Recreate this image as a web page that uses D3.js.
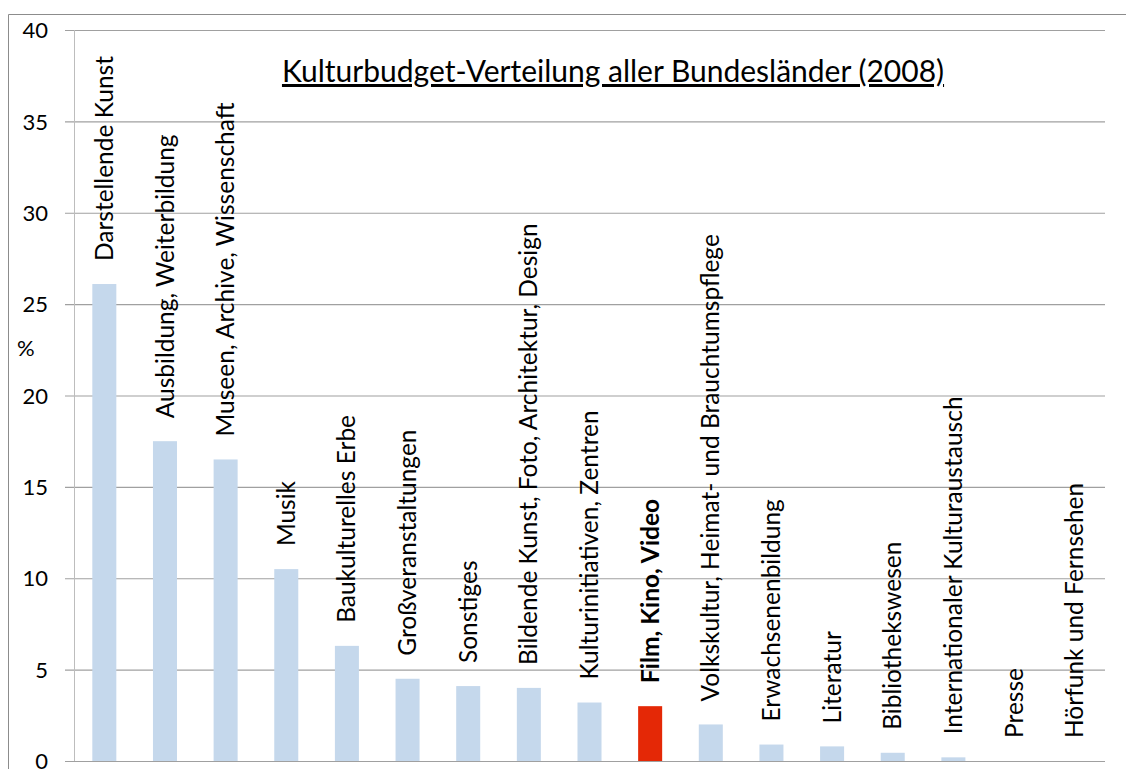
<!DOCTYPE html>
<html>
<head>
<meta charset="utf-8">
<script src="https://cdn.jsdelivr.net/npm/d3@7"></script>
<style>
  body { margin: 0; background: #fff; }
  text { font-family: Lato, "Open Sans", sans-serif; fill: #000; }
</style>
</head>
<body>
<div id="content"></div>
<script>
// categories and their share of the culture budget (%)
var categories = [
    "Darstellende Kunst", "Ausbildung, Weiterbildung", "Museen, Archive, Wissenschaft",
    "Musik", "Baukulturelles Erbe", "Großveranstaltungen", "Sonstiges",
    "Bildende Kunst, Foto, Architektur, Design", "Kulturinitiativen, Zentren",
    "Film, Kino, Video", "Volkskultur, Heimat- und Brauchtumspflege",
    "Erwachsenenbildung", "Literatur", "Bibliothekswesen",
    "Internationaler Kulturaustausch", "Presse", "Hörfunk und Fernsehen"
];
var values = [26.1, 17.5, 16.5, 10.5, 6.3, 4.5, 4.1, 4.0, 3.2, 3.0, 2.0, 0.9, 0.8, 0.45, 0.2, 0, 0];
var highlight = "Film, Kino, Video";
var yTicks = [0, 5, 10, 15, 20, 25, 30, 35, 40];
var title = "Kulturbudget-Verteilung aller Bundesländer (2008)";

var W = 1126, H = 769;
var plotLeft = 74, plotRight = 1105, plotTop = 30, plotBottom = 761;

var data = categories.map(function(c, i) { return { name: c, value: values[i] }; });

var svg = d3.select("#content").append("svg")
    .attr("width", W)
    .attr("height", H);

// chart frame
svg.append("path")
    .attr("d", "M8.5," + H + "V14.5H" + W)
    .attr("fill", "none")
    .attr("stroke", "#8c8c8c")
    .attr("stroke-width", 1);

var xScale = d3.scaleBand().domain(categories).range([plotLeft, plotRight])
        .paddingInner(0.604).paddingOuter(0.302),
    yScale = d3.scaleLinear().domain([0, 40]).range([plotBottom, plotTop]);

// gridlines + tick labels
var yAxis = d3.axisLeft(yScale)
    .tickValues(yTicks)
    .tickSize(-(plotRight - plotLeft) - 9)
    .tickPadding(0)
    .tickFormat(d3.format("d"));

var gy = svg.append("g")
    .attr("class", "y axis")
    .attr("transform", "translate(" + (plotLeft - 9) + ",0)")
    .call(yAxis);

gy.select(".domain").remove();
gy.selectAll(".tick line").attr("stroke", "#a0a0a0").attr("stroke-width", 1.2);
gy.selectAll(".tick text")
    .attr("x", -17)
    .attr("dy", "0.35em")
    .style("font-size", "22px")
    .style("font-family", "Lato, sans-serif");

// vertical axis line
svg.append("line")
    .attr("x1", plotLeft + 0.5).attr("x2", plotLeft + 0.5)
    .attr("y1", plotTop).attr("y2", plotBottom)
    .attr("stroke", "#bdbdbd");

svg.append("text")
    .attr("x", 17)
    .attr("y", 348)
    .attr("dy", "0.35em")
    .style("font-size", "22px")
    .text("%");

// bars
svg.append("g")
    .selectAll("rect")
    .data(data)
    .enter()
    .append("rect")
    .attr("x", function(d) { return xScale(d.name); })
    .attr("width", xScale.bandwidth())
    .attr("y", function(d) { return yScale(d.value); })
    .attr("height", function(d) { return yScale(0) - yScale(d.value); })
    .attr("fill", function(d) { return d.name === highlight ? "#e42806" : "#c5d8ec"; });

// rotated category labels above the bars
svg.append("g")
    .selectAll("text")
    .data(data)
    .enter()
    .append("text")
    .attr("transform", function(d) {
        var cx = xScale(d.name) + xScale.bandwidth() / 2,
            cy = yScale(d.value) - 23;
        return "translate(" + cx + "," + cy + ") rotate(-90)";
    })
    .attr("dy", "0.35em")
    .attr("text-anchor", "start")
    .style("font-size", "24.5px")
    .style("font-weight", function(d) { return d.name === highlight ? "bold" : "normal"; })
    .text(function(d) { return d.name; });

// title
svg.append("text")
    .attr("x", (283 + 943) / 2)
    .attr("y", 82)
    .attr("text-anchor", "middle")
    .style("font-size", "30px")
    .style("text-decoration", "underline")
    .text(title);
</script>
</body>
</html>
